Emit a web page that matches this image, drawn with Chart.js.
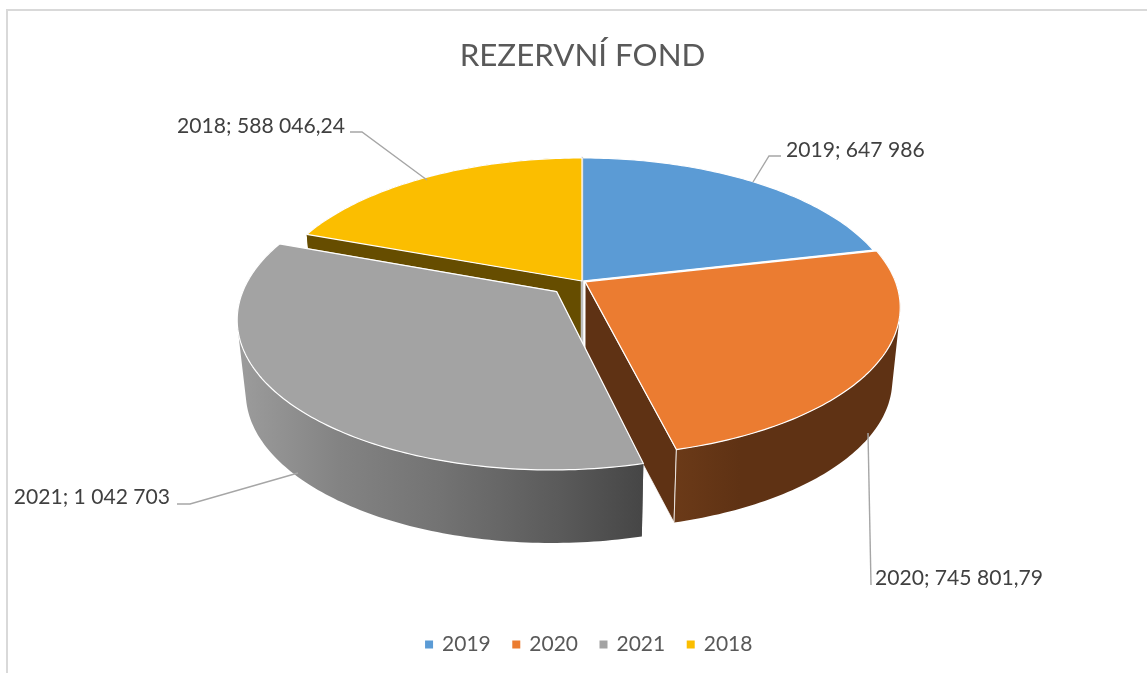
<!DOCTYPE html>
<html><head><meta charset="utf-8">
<style>html,body{margin:0;padding:0;background:#fff}canvas{display:block}</style>
<script src="https://cdn.jsdelivr.net/npm/chart.js@4"></script>
</head><body>
<div style="width:1147px;height:673px"><canvas id="c" width="1147" height="673"></canvas></div>
<script>
const titleText = 'REZERVNÍ FOND';
const categories = ['2019', '2020', '2021', '2018'];
const values = [647986, 745801.79, 1042703, 588046.24];
const valueTexts = ['647 986', '745 801,79', '1 042 703', '588 046,24'];
const colors = ['#5B9BD5', '#EB7C31', '#A3A3A3', '#FBBE00'];
const wallColors = ['#24435f', '#5F3214', '#6e6e6e', '#664D00'];
const explode = [0, 3, 27, 0];            // px at the library's radius
const FONT = 'Lato, Carlito, sans-serif';

// perspective of the pie plane
const VIEW = {ox: 582, oy: 281, rx: 310, ry: 144, p: 0.17, depth: 73, shrink: 0.975};
// label anchors and leader lines
const labelSpots = [
  {x: 786, y: 150, align: 'left',  line: [[781,156],[769,156],[753,182]]},
  {x: 875, y: 578, align: 'left',  line: [[871,585],[868,433]]},
  {x: 170, y: 497, align: 'right', line: [[177,504],[190,504],[298,473]]},
  {x: 345, y: 126, align: 'right', line: [[350,132],[362,132],[427,180]]}
];

function proj(u, v, bottom) {
  const w = 1 - VIEW.p * v;
  let X = VIEW.ox + VIEW.rx * u / w, Y = VIEW.oy + VIEW.ry * v / w;
  if (bottom) { X = VIEW.ox + (X - VIEW.ox) * VIEW.shrink; Y += VIEW.depth; }
  return [X, Y];
}
function addPoly(ctx, pts) {
  pts.forEach((q, i) => i ? ctx.lineTo(q[0], q[1]) : ctx.moveTo(q[0], q[1]));
  ctx.closePath();
}
function trace(ctx, pts) {
  ctx.beginPath();
  addPoly(ctx, pts);
}
function signedArea(pts) {
  let s = 0;
  pts.forEach((q, i) => {
    const n = pts[(i + 1) % pts.length];
    s += q[0] * n[1] - n[0] * q[1];
  });
  return s;
}
function arcPts(a0, a1, ou, ov, bottom) {
  const n = Math.max(8, Math.ceil((a1 - a0) * 60)), out = [];
  for (let i = 0; i <= n; i++) {
    const a = a0 + (a1 - a0) * i / n;
    out.push(proj(Math.cos(a) + ou, Math.sin(a) + ov, bottom));
  }
  return out;
}

const pie3d = {
  id: 'pie3d',
  afterLayout(chart) {
    chart.legend.left += 7;
    chart.legend.right += 7;
  },
  beforeDraw(chart) {
    const ctx = chart.ctx;
    ctx.save();
    ctx.strokeStyle = '#D9D9D9';
    ctx.lineWidth = 2;
    ctx.beginPath();
    ctx.moveTo(7, 673); ctx.lineTo(7, 10); ctx.lineTo(1147, 10);
    ctx.stroke();
    ctx.restore();
  },
  beforeDatasetsDraw(chart) {
    const ctx = chart.ctx, arcs = chart.getDatasetMeta(0).data;
    ctx.save();
    ctx.lineJoin = 'round';
    [0, 3, 1, 2].forEach(i => {
      const el = arcs[i], r = el.outerRadius;
      const a0 = el.startAngle, a1 = el.endAngle, mid = (a0 + a1) / 2;
      const off = (el.options.offset || 0) / r;
      const ou = Math.cos(mid) * off, ov = Math.sin(mid) * off;
      const apexT = proj(ou, ov, false), apexB = proj(ou, ov, true);
      const top = arcPts(a0, a1, ou, ov, false), bot = arcPts(a0, a1, ou, ov, true);
      const wall = wallColors[i];

      if (i !== 0) {
        // cut walls
        ctx.fillStyle = wall;
        ctx.strokeStyle = 'rgba(255,255,255,0.75)';
        ctx.lineWidth = 1;
        trace(ctx, [apexT, top[0], bot[0], apexB]);
        ctx.fill();
        trace(ctx, [apexT, top[top.length - 1], bot[bot.length - 1], apexB]);
        ctx.fill();
        if (i === 3) { ctx.strokeStyle = '#BFBFBF'; ctx.lineWidth = 2.5; }
        ctx.stroke();
        // rim: one path of same-wound faces, so the silhouette stays closed
        let fill = wall;
        if (i === 2) {
          const g = ctx.createLinearGradient(238, 0, 642, 0);
          g.addColorStop(0, '#9C9C9C');
          g.addColorStop(0.25, '#838383');
          g.addColorStop(0.5, '#737373');
          g.addColorStop(0.8, '#5A5A5A');
          g.addColorStop(1, '#464646');
          fill = g;
        } else if (i === 1) {
          const g = ctx.createLinearGradient(675, 0, 740, 0);
          g.addColorStop(0, '#6B3A18');
          g.addColorStop(1, '#5F3214');
          fill = g;
        }
        ctx.fillStyle = fill;
        ctx.beginPath();
        for (let k = 0; k < top.length - 1; k++) {
          const quad = [top[k], top[k + 1], bot[k + 1], bot[k]];
          addPoly(ctx, signedArea(quad) < 0 ? quad.reverse() : quad);
        }
        ctx.fill('nonzero');
        if (i === 1) {
          ctx.strokeStyle = 'rgba(255,255,255,0.75)';
          ctx.lineWidth = 1;
          ctx.beginPath();
          const q0 = top[top.length - 1], q1 = bot[bot.length - 1];
          ctx.moveTo(q0[0], q0[1]); ctx.lineTo(q1[0], q1[1]);
          ctx.stroke();
        }
      }
      // top face
      ctx.fillStyle = colors[i];
      ctx.strokeStyle = '#fff';
      ctx.lineWidth = 1.2;
      trace(ctx, [apexT].concat(top));
      ctx.fill(); ctx.stroke();
    });
    ctx.restore();
    return false;
  },
  afterDraw(chart) {
    const ctx = chart.ctx;
    ctx.save();
    labelSpots.forEach((s, i) => {
      ctx.strokeStyle = '#A6A6A6';
      ctx.lineWidth = 1.4;
      ctx.beginPath();
      s.line.forEach((q, k) => k ? ctx.lineTo(q[0], q[1]) : ctx.moveTo(q[0], q[1]));
      ctx.stroke();
      ctx.fillStyle = '#404040';
      ctx.font = '21.1px ' + FONT;
      ctx.textAlign = s.align;
      ctx.textBaseline = 'middle';
      ctx.fillText(categories[i] + '; ' + valueTexts[i], s.x, s.y);
    });
    ctx.restore();
  }
};

new Chart(document.getElementById('c'), {
  type: 'pie',
  data: {
    labels: categories,
    datasets: [{ data: values, backgroundColor: colors, offset: explode, borderWidth: 3, borderColor: colors }]
  },
  options: {
    responsive: false,
    animation: false,
    layout: { padding: { left: 18, right: 0, top: 0, bottom: 8 } },
    plugins: {
      tooltip: { enabled: false },
      title: {
        display: true, text: titleText, color: '#595959',
        font: { family: FONT, size: 31.3, weight: 'normal' },
        padding: { top: 37, bottom: 10 }
      },
      legend: {
        position: 'bottom',
        labels: {
          color: '#595959', boxWidth: 5, boxHeight: 5, padding: 23,
          font: { family: FONT, size: 21 }
        }
      }
    }
  },
  plugins: [pie3d]
});
</script>
</body></html>
